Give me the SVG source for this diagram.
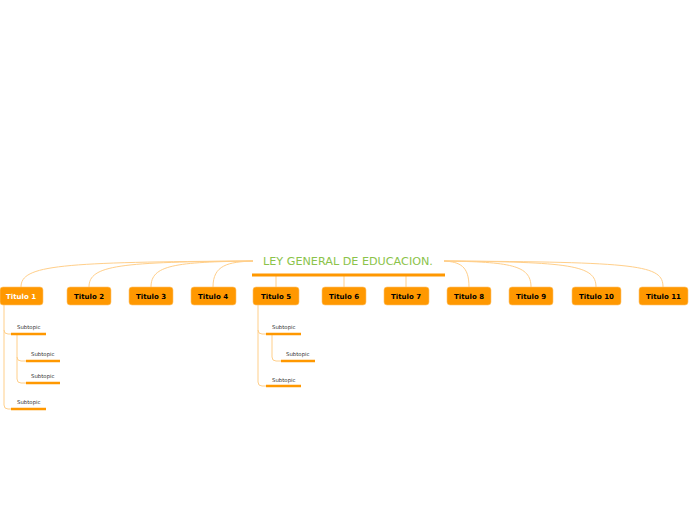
<svg xmlns="http://www.w3.org/2000/svg" width="696" height="520" viewBox="0 0 696 520">
<style>
.c{fill:none;stroke:#ffcf8a;stroke-width:1}
.n rect{fill:#ff9800;stroke:#ffc46b;stroke-width:0.6}
.n text{font-family:"DejaVu Sans",Verdana,sans-serif;font-size:7px;font-weight:bold;fill:#000;text-anchor:middle}
.s line{stroke:#ff9800;stroke-width:2.6}
.s text{font-family:"DejaVu Sans",Verdana,sans-serif;font-size:5.4px;fill:#333}
</style>
<rect width="696" height="520" fill="#fff"/>
<g id="connectors">
<path class="c" d="M253,261 C60,262 21,265 21,287"/>
<path class="c" d="M253,261 C120,262 89,265 89,287"/>
<path class="c" d="M253,261 C175,262 151,265 151,287"/>
<path class="c" d="M253,261 C228,262 213,265 213,287"/>
<path class="c" d="M276,276 L276,287"/>
<path class="c" d="M344,276 L344,287"/>
<path class="c" d="M406,276 L406,287"/>
<path class="c" d="M444,261 C460,262 469,266 469,287"/>
<path class="c" d="M444,261 C510,262 531,265 531,287"/>
<path class="c" d="M444,261 C570,262 596,265 596,287"/>
<path class="c" d="M444,261 C640,262 663,265 663,287"/>
<path class="c" d="M4,305 L4,330 Q4,334 8,334 L11,334"/>
<path class="c" d="M4,330 L4,405 Q4,409 8,409 L11,409"/>
<path class="c" d="M17,335 L17,357 Q17,361 21,361 L26,361"/>
<path class="c" d="M17,357 L17,379 Q17,383 21,383 L26,383"/>
<path class="c" d="M258,305 L258,330 Q258,334 262,334 L266,334"/>
<path class="c" d="M258,330 L258,382 Q258,386 262,386 L266,386"/>
<path class="c" d="M272,335 L272,357 Q272,361 276,361 L281,361"/>
</g>
<g id="root">
<text x="348" y="265" font-family="'DejaVu Sans',Verdana,sans-serif" font-size="11.2" fill="#8bc34a" text-anchor="middle">LEY GENERAL DE EDUCACION.</text>
<line x1="252" y1="275" x2="445" y2="275" stroke="#ff9800" stroke-width="3"/>
</g>
<g id="t1" class="n"><rect x="0" y="287" width="43" height="18" rx="3"/><text x="21" y="298.5" style="fill:#fff">Titulo 1</text></g>
<g id="t2" class="n"><rect x="67" y="287" width="44" height="18" rx="3"/><text x="89" y="298.5">Titulo 2</text></g>
<g id="t3" class="n"><rect x="129" y="287" width="44" height="18" rx="3"/><text x="151" y="298.5">Titulo 3</text></g>
<g id="t4" class="n"><rect x="191" y="287" width="45" height="18" rx="3"/><text x="213" y="298.5">Titulo 4</text></g>
<g id="t5" class="n"><rect x="253" y="287" width="46" height="18" rx="3"/><text x="276" y="298.5">Titulo 5</text></g>
<g id="t6" class="n"><rect x="322" y="287" width="44" height="18" rx="3"/><text x="344" y="298.5">Titulo 6</text></g>
<g id="t7" class="n"><rect x="384" y="287" width="45" height="18" rx="3"/><text x="406" y="298.5">Titulo 7</text></g>
<g id="t8" class="n"><rect x="447" y="287" width="44" height="18" rx="3"/><text x="469" y="298.5">Titulo 8</text></g>
<g id="t9" class="n"><rect x="509" y="287" width="44" height="18" rx="3"/><text x="531" y="298.5">Titulo 9</text></g>
<g id="t10" class="n"><rect x="572" y="287" width="49" height="18" rx="3"/><text x="596.5" y="298.5">Titulo 10</text></g>
<g id="t11" class="n"><rect x="639" y="287" width="49" height="18" rx="3"/><text x="663.5" y="298.5">Titulo 11</text></g>
<g id="s1" class="s"><text x="17" y="329">Subtopic</text><line x1="11" y1="334" x2="46" y2="334"/></g>
<g id="s11" class="s"><text x="31" y="356">Subtopic</text><line x1="26" y1="361" x2="60" y2="361"/></g>
<g id="s12" class="s"><text x="31" y="378">Subtopic</text><line x1="26" y1="383" x2="60" y2="383"/></g>
<g id="s2" class="s"><text x="17" y="404">Subtopic</text><line x1="11" y1="409" x2="46" y2="409"/></g>
<g id="s51" class="s"><text x="272" y="329">Subtopic</text><line x1="266" y1="334" x2="301" y2="334"/></g>
<g id="s511" class="s"><text x="286" y="356">Subtopic</text><line x1="281" y1="361" x2="315" y2="361"/></g>
<g id="s52" class="s"><text x="272" y="382">Subtopic</text><line x1="266" y1="386" x2="301" y2="386"/></g>
</svg>
